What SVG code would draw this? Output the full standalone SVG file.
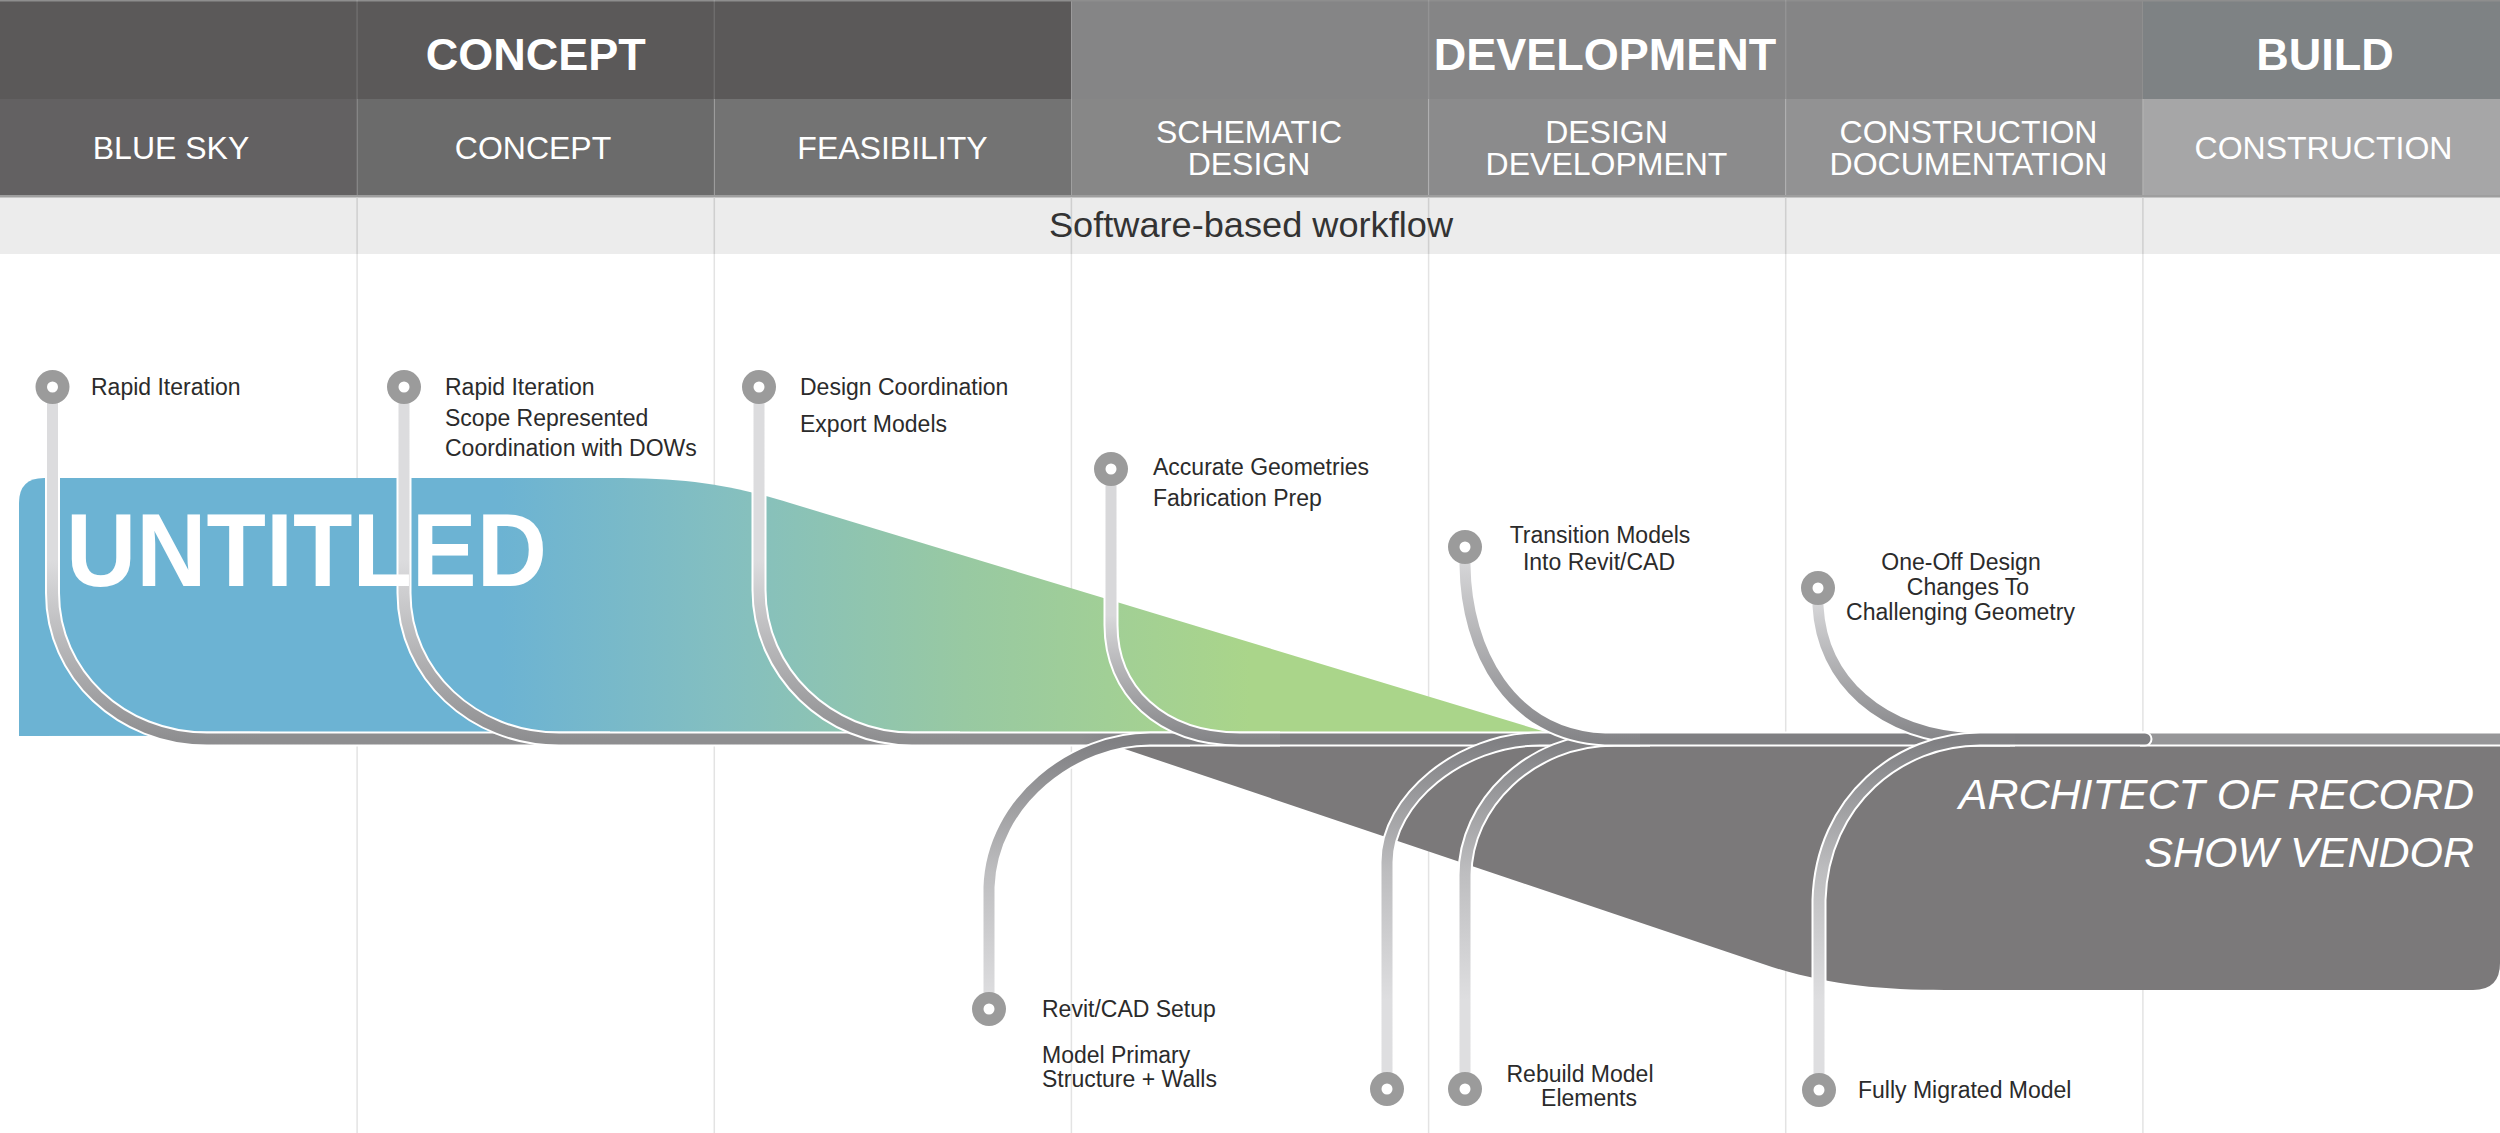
<svg xmlns="http://www.w3.org/2000/svg" width="2500" height="1133" viewBox="0 0 2500 1133">
<defs>
<style>
.h1{font-family:"Liberation Sans",Arial,sans-serif;font-weight:bold;font-size:45px;fill:#fff;text-anchor:middle}
.h2{font-family:"Liberation Sans",Arial,sans-serif;font-size:32px;fill:#fff;text-anchor:middle}
.lbl{font-family:"Liberation Sans",Arial,sans-serif;font-size:23px;fill:#2b2b2b}
.mid{text-anchor:middle}
.div{stroke:#e3e3e3;stroke-width:1.5}
.divb{stroke:#cfcfcf;stroke-width:1.5}
.divh{stroke:#ffffff;stroke-opacity:0.12;stroke-width:1.5}
.halo{fill:none;stroke:#ffffff;stroke-width:15}
.tube{fill:none;stroke-width:11}
.ring{fill:#9b9b9b}
.hole{fill:#ffffff}
.big{font-family:"Liberation Sans",Arial,sans-serif;font-style:italic;font-size:43px;fill:#fff;text-anchor:end}
</style>
<linearGradient id="gShape" gradientUnits="userSpaceOnUse" x1="500" y1="0" x2="1250" y2="0">
<stop offset="0" stop-color="#6cb3d3"/>
<stop offset="0.3" stop-color="#84bfc0"/>
<stop offset="0.62" stop-color="#98c9a2"/>
<stop offset="1" stop-color="#aad58a"/>
</linearGradient>
<linearGradient id="gUp" gradientUnits="userSpaceOnUse" x1="0" y1="560" x2="0" y2="740">
<stop offset="0" stop-color="#dcdcde"/>
<stop offset="1" stop-color="#8e8e90"/>
</linearGradient>
<linearGradient id="gUp4" gradientUnits="userSpaceOnUse" x1="0" y1="615" x2="0" y2="740">
<stop offset="0" stop-color="#d8d8da"/>
<stop offset="1" stop-color="#858588"/>
</linearGradient>
<linearGradient id="gUp5" gradientUnits="userSpaceOnUse" x1="0" y1="565" x2="0" y2="740">
<stop offset="0" stop-color="#d4d4d6"/>
<stop offset="1" stop-color="#858588"/>
</linearGradient>
<linearGradient id="gUp6" gradientUnits="userSpaceOnUse" x1="0" y1="606" x2="0" y2="740">
<stop offset="0" stop-color="#d4d4d6"/>
<stop offset="1" stop-color="#858588"/>
</linearGradient>
<linearGradient id="gLow" gradientUnits="userSpaceOnUse" x1="0" y1="1000" x2="0" y2="742">
<stop offset="0" stop-color="#dedee0"/>
<stop offset="0.5" stop-color="#bdbdbf"/>
<stop offset="1" stop-color="#808083"/>
</linearGradient>
<linearGradient id="gRail" gradientUnits="userSpaceOnUse" x1="1080" y1="0" x2="1160" y2="0">
<stop offset="0" stop-color="#8e8e90"/>
<stop offset="1" stop-color="#7f7f82"/>
</linearGradient>
</defs>

<rect width="2500" height="1133" fill="#ffffff"/>

<g id="body-dividers">
<line class="div" x1="357.1" y1="254" x2="357.1" y2="1133"/>
<line class="div" x1="714.3" y1="254" x2="714.3" y2="1133"/>
<line class="div" x1="1071.4" y1="254" x2="1071.4" y2="1133"/>
<line class="div" x1="1428.6" y1="254" x2="1428.6" y2="1133"/>
<line class="div" x1="1785.7" y1="254" x2="1785.7" y2="1133"/>
<line class="div" x1="2142.9" y1="254" x2="2142.9" y2="1133"/>
</g>

<g id="header">
<rect x="0" y="0" width="1071.4" height="99" fill="#5b5959"/>
<rect x="1071.4" y="0" width="1071.5" height="99" fill="#858586"/>
<rect x="2142.9" y="0" width="357.1" height="99" fill="#7e8284"/>
<rect x="0" y="0" width="2500" height="1.5" fill="#8e8e8e"/>
<rect x="0" y="99" width="357.1" height="97" fill="#636162"/>
<rect x="357.1" y="99" width="357.2" height="97" fill="#6b6b6b"/>
<rect x="714.3" y="99" width="357.1" height="97" fill="#737373"/>
<rect x="1071.4" y="99" width="357.2" height="97" fill="#878787"/>
<rect x="1428.6" y="99" width="357.1" height="97" fill="#8b8b8c"/>
<rect x="1785.7" y="99" width="357.2" height="97" fill="#929293"/>
<rect x="2142.9" y="99" width="357.1" height="97" fill="#a6a6a7"/>
<rect x="0" y="196" width="2500" height="58" fill="#ececec"/>
<rect x="0" y="195" width="2500" height="2.5" fill="#9e9e9e"/>
<line class="divh" x1="357.1" y1="0" x2="357.1" y2="195"/>
<line class="divh" x1="714.3" y1="0" x2="714.3" y2="195"/>
<line class="divh" x1="1428.6" y1="0" x2="1428.6" y2="195"/>
<line class="divh" x1="1785.7" y1="0" x2="1785.7" y2="195"/>
<line class="divh" x1="2142.9" y1="99" x2="2142.9" y2="195"/>
<line class="divb" x1="357.1" y1="197.5" x2="357.1" y2="254"/>
<line class="divb" x1="714.3" y1="197.5" x2="714.3" y2="254"/>
<line class="divb" x1="1071.4" y1="197.5" x2="1071.4" y2="254"/>
<line class="divb" x1="1428.6" y1="197.5" x2="1428.6" y2="254"/>
<line class="divb" x1="1785.7" y1="197.5" x2="1785.7" y2="254"/>
<line class="divb" x1="2142.9" y1="197.5" x2="2142.9" y2="254"/>
<text class="h1" x="535.7" y="70">CONCEPT</text>
<text class="h1" x="1605" y="70">DEVELOPMENT</text>
<text class="h1" x="2325" y="70">BUILD</text>
<text class="h2" x="171" y="159">BLUE SKY</text>
<text class="h2" x="533" y="159">CONCEPT</text>
<text class="h2" x="892.5" y="159">FEASIBILITY</text>
<text class="h2" x="1249"><tspan x="1249" y="143">SCHEMATIC</tspan><tspan x="1249" y="175">DESIGN</tspan></text>
<text class="h2" x="1606.5"><tspan x="1606.5" y="143">DESIGN</tspan><tspan x="1606.5" y="175">DEVELOPMENT</tspan></text>
<text class="h2" x="1968.5"><tspan x="1968.5" y="143">CONSTRUCTION</tspan><tspan x="1968.5" y="175">DOCUMENTATION</tspan></text>
<text class="h2" x="2323.5" y="159">CONSTRUCTION</text>
<text x="1251" y="237" font-family="Liberation Sans, Arial, sans-serif" font-size="35" fill="#333333" text-anchor="middle" textLength="404" lengthAdjust="spacingAndGlyphs">Software-based workflow</text>
</g>

<g id="shapes">
<path id="untitled-area" d="M19,503 Q19,478 44,478 L610,478 C690,478 730,485 790,503 L1552,734 L19,736 Z" fill="url(#gShape)"/>
<path id="vendor-area" d="M1113,745 L2500,745 L2500,963 Q2500,990 2473,990 L1945,990 C1880,990 1830,985 1772,967 Z" fill="#7b797a"/>
</g>

<g id="connectors">
<path class="halo" d="M2140,739 L2500,739"/>
<path class="tube" d="M2140,739 L2500,739" stroke="#969698"/>
<path class="halo" d="M200,739 L2145,739" stroke-linecap="round"/>
<path class="tube" d="M200,739 L2145,739" stroke="url(#gRail)" stroke-linecap="round"/>

<path class="halo" d="M52.5,387 L52.5,593 C52.5,674 121,739 207,739 L260,739"/>
<path class="tube" d="M52.5,387 L52.5,593 C52.5,674 121,739 207,739 L260,739" stroke="url(#gUp)"/>
<path class="halo" d="M404,387 L404,593 C404,674 473,739 559,739 L610,739"/>
<path class="tube" d="M404,387 L404,593 C404,674 473,739 559,739 L610,739" stroke="url(#gUp)"/>
<path class="halo" d="M759,387 L759,590 C759,672 828,739 912,739 L960,739"/>
<path class="tube" d="M759,387 L759,590 C759,672 828,739 912,739 L960,739" stroke="url(#gUp)"/>
<path class="halo" d="M989,1009 L989,887 C992,800 1075,739 1150,739 L1190,739"/>
<path class="tube" d="M989,1009 L989,887 C992,800 1075,739 1150,739 L1190,739" stroke="url(#gLow)"/>
<path class="halo" d="M1111,469 L1111,625 C1111,690 1160,739 1240,739 L1280,739"/>
<path class="tube" d="M1111,469 L1111,625 C1111,690 1160,739 1240,739 L1280,739" stroke="url(#gUp4)"/>
<path class="halo" d="M1387,1089 L1387,862 C1387,800 1460,739 1540,739 L1580,739"/>
<path class="tube" d="M1387,1089 L1387,862 C1387,800 1460,739 1540,739 L1580,739" stroke="url(#gLow)"/>
<path class="halo" d="M1465,1089 L1465,875 C1465,805 1530,739 1615,739 L1650,739"/>
<path class="tube" d="M1465,1089 L1465,875 C1465,805 1530,739 1615,739 L1650,739" stroke="url(#gLow)"/>
<path class="halo" d="M1465,547 L1465,565 C1466,650 1510,735 1605,739 L1640,739"/>
<path class="tube" d="M1465,547 L1465,565 C1466,650 1510,735 1605,739 L1640,739" stroke="url(#gUp5)"/>
<path class="halo" d="M1818,588 L1818,606 C1822,680 1880,735 1975,739 L2010,739"/>
<path class="tube" d="M1818,588 L1818,606 C1822,680 1880,735 1975,739 L2010,739" stroke="url(#gUp6)"/>
<path class="halo" d="M1819,1090 L1819,900 C1822,800 1900,739 1980,739 L2015,739"/>
<path class="tube" d="M1819,1090 L1819,900 C1822,800 1900,739 1980,739 L2015,739" stroke="url(#gLow)"/>
</g>

<g id="titles">
<text x="66" y="586" font-family="Liberation Sans, Arial, sans-serif" font-weight="bold" font-size="103" fill="#ffffff" textLength="481" lengthAdjust="spacingAndGlyphs">UNTITLED</text>
<text class="big" x="2474" y="809">ARCHITECT OF RECORD</text>
<text class="big" x="2474" y="867">SHOW VENDOR</text>
</g>

<g id="node-rapid-iteration">
<circle class="ring" cx="52.5" cy="387" r="17"/><circle class="hole" cx="52.5" cy="387" r="5.5"/>
<text class="lbl" x="91" y="395">Rapid Iteration</text>
</g>
<g id="node-concept">
<circle class="ring" cx="404" cy="387" r="17"/><circle class="hole" cx="404" cy="387" r="5.5"/>
<text class="lbl" x="445" y="395">Rapid Iteration</text>
<text class="lbl" x="445" y="426">Scope Represented</text>
<text class="lbl" x="445" y="456">Coordination with DOWs</text>
</g>
<g id="node-design-coordination">
<circle class="ring" cx="759" cy="387" r="17"/><circle class="hole" cx="759" cy="387" r="5.5"/>
<text class="lbl" x="800" y="395">Design Coordination</text>
<text class="lbl" x="800" y="432">Export Models</text>
</g>
<g id="node-accurate-geometries">
<circle class="ring" cx="1111" cy="469" r="17"/><circle class="hole" cx="1111" cy="469" r="5.5"/>
<text class="lbl" x="1153" y="475">Accurate Geometries</text>
<text class="lbl" x="1153" y="506">Fabrication Prep</text>
</g>
<g id="node-transition-models">
<circle class="ring" cx="1465" cy="547" r="17"/><circle class="hole" cx="1465" cy="547" r="5.5"/>
<text class="lbl mid" x="1600" y="543">Transition Models</text>
<text class="lbl mid" x="1599" y="570">Into Revit/CAD</text>
</g>
<g id="node-one-off-design">
<circle class="ring" cx="1818" cy="588" r="17"/><circle class="hole" cx="1818" cy="588" r="5.5"/>
<text class="lbl mid" x="1961" y="570">One-Off Design</text>
<text class="lbl mid" x="1968" y="595">Changes To</text>
<text class="lbl mid" x="1960.5" y="620">Challenging Geometry</text>
</g>
<g id="node-revit-cad-setup">
<circle class="ring" cx="989" cy="1009" r="17"/><circle class="hole" cx="989" cy="1009" r="5.5"/>
<text class="lbl" x="1042" y="1017">Revit/CAD Setup</text>
<text class="lbl" x="1042" y="1063">Model Primary</text>
<text class="lbl" x="1042" y="1087">Structure + Walls</text>
</g>
<g id="node-unlabeled">
<circle class="ring" cx="1387" cy="1089" r="17"/><circle class="hole" cx="1387" cy="1089" r="5.5"/>
</g>
<g id="node-rebuild-model">
<circle class="ring" cx="1465" cy="1089" r="17"/><circle class="hole" cx="1465" cy="1089" r="5.5"/>
<text class="lbl mid" x="1580" y="1082">Rebuild Model</text>
<text class="lbl mid" x="1589" y="1106">Elements</text>
</g>
<g id="node-fully-migrated">
<circle class="ring" cx="1819" cy="1090" r="17"/><circle class="hole" cx="1819" cy="1090" r="5.5"/>
<text class="lbl" x="1858" y="1098">Fully Migrated Model</text>
</g>
</svg>
